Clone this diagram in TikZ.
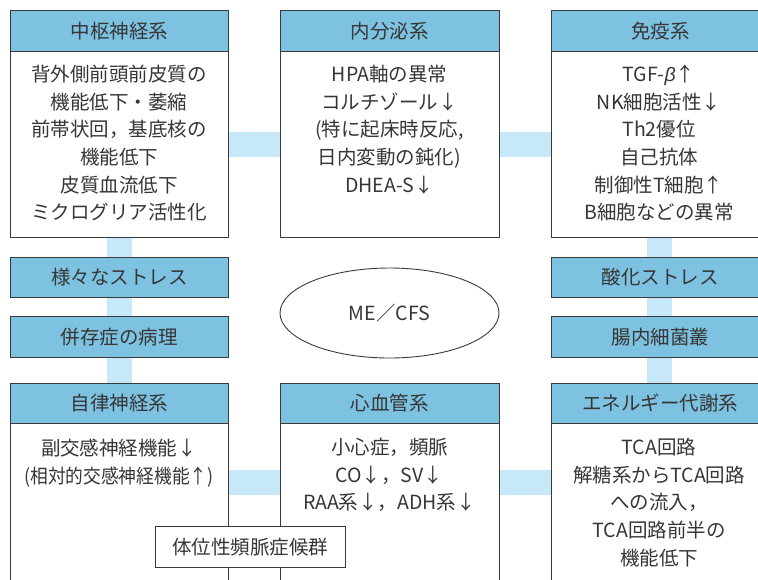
\documentclass[tikz,border=0pt]{standalone}
\usepackage{fontspec}
\usepackage{graphicx}
\setmainfont{Noto Sans CJK JP}
\newfontfamily\grkfont{Liberation Sans}
\usetikzlibrary{shapes.geometric}
\definecolor{headblue}{HTML}{7EC2E1}
\definecolor{barblue}{HTML}{C6E8F8}
\definecolor{linecol}{HTML}{3A3A3A}
\definecolor{txtcol}{HTML}{363636}
\pgfdeclarelayer{bg}
\pgfsetlayers{bg,main}
\begin{document}
\begin{tikzpicture}[x=1pt,y=-1pt,
  every node/.style={text=txtcol, font=\fontsize{19.5}{27.6}\selectfont, inner sep=0pt},
  panel/.style={draw=linecol, line width=0.9pt, fill=white, anchor=north west, minimum width=218pt},
  head/.style={draw=linecol, line width=0.9pt, fill=headblue, anchor=north west, minimum width=218pt, minimum height=41pt},
  body/.style={anchor=north, align=center},
  bar/.style={draw=barblue, line width=25pt, line cap=butt}]
\useasboundingbox (0,0) rectangle (758,579);
% top row
\node[panel, minimum height=227pt] (cns) at (10,10) {};
\node[head] (cnsH) at (10,10) {中枢神経系};
\node[body] (cnsB) at (119,65) {背外側前頭前皮質の\\機能低下・萎縮\\前帯状回，基底核の\\機能低下\\皮質血流低下\\ミクログリア活性化};
\node[panel, minimum width=219pt, minimum height=227pt] (endo) at (280,10) {};
\node[head, minimum width=219pt] (endoH) at (280,10) {内分泌系};
\node[body] (endoB) at (389.5,65) {HPA軸の異常\\コルチゾール↓\\(特に起床時反応,\\日内変動の鈍化)\\DHEA-S↓};
\node[panel, minimum height=227pt] (imm) at (551,10) {};
\node[head] (immH) at (551,10) {免疫系};
\node[body] (immB) at (659,65) {TGF-{\grkfont\itshape β}↑\\NK細胞活性↓\\Th2優位\\自己抗体\\制御性T細胞↑\\B細胞などの異常};
% middle row
\node[head, minimum height=40pt] (stress) at (10,257) {様々なストレス};
\node[head, minimum height=41pt] (comorb) at (10,316) {併存症の病理};
\node[head, minimum height=40pt] (oxid) at (551,257) {酸化ストレス};
\node[head, minimum height=41pt] (gut) at (551,316) {腸内細菌叢};
\node[ellipse, draw=linecol, line width=0.9pt, minimum width=219pt, minimum height=90pt] (me) at (389.5,313) {ME／CFS};
% bottom row
\node[panel, minimum height=240pt] (ans) at (10,383) {};
\node[head, minimum height=40pt] (ansH) at (10,383) {自律神経系};
\node[body] (ansB) at (119,439) {副交感神経機能↓\\\scalebox{0.91}[1]{(相対的交感神経機能↑)}};
\node[panel, minimum width=219pt, minimum height=240pt] (cv) at (280,383) {};
\node[head, minimum width=219pt, minimum height=40pt] (cvH) at (280,383) {心血管系};
\node[body] (cvB) at (389.5,438) {小心症，頻脈\\CO↓，SV↓\\RAA系↓，ADH系↓};
\node[panel, minimum height=240pt] (en) at (551,383) {};
\node[head, minimum height=40pt] (enH) at (551,383) {エネルギー代謝系};
\node[body] (enB) at (659,438) {TCA回路\\解糖系からTCA回路\\への流入，\\TCA回路前半の\\機能低下};
\node[draw=linecol, line width=0.9pt, fill=white, anchor=north west, minimum width=190pt, minimum height=41pt] (pots) at (155,526) {体位性頻脈症候群};
% connectors
\begin{pgfonlayer}{bg}
\draw[bar] (cns.east |- 0,144.5) -- (endo.west |- 0,144.5);
\draw[bar] (endo.east |- 0,144.5) -- (imm.west |- 0,144.5);
\draw[bar] (ans.east |- 0,482) -- (cv.west |- 0,482);
\draw[bar] (cv.east |- 0,482) -- (en.west |- 0,482);
\draw[bar] (cns.south -| 119.5,0) -- (ansH.north -| 119.5,0);
\draw[bar] (imm.south -| 659.5,0) -- (enH.north -| 659.5,0);
\end{pgfonlayer}
\end{tikzpicture}
\end{document}
